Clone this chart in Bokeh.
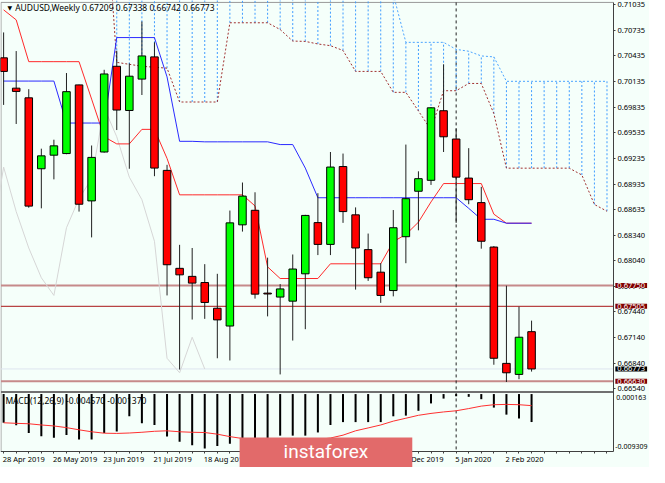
from bokeh.plotting import figure
from bokeh.models import (Range1d, FixedTicker, NumeralTickFormatter, CustomJSTickFormatter,
                          Label, ColumnDataSource)
from bokeh.embed import file_html
from bokeh.resources import INLINE

# ---------------- data ----------------
bars = list(range(43))
opens = [0.70413, 0.70058, 0.69945, 0.69115, 0.69274, 0.69293, 0.70096, 0.68739, 0.69311, 0.70314,
         0.69797, 0.70164, 0.70424, 0.69096, 0.67950, 0.67856, 0.67784, 0.67483, 0.67275, 0.68459,
         0.68629, 0.67660, 0.67614, 0.67566, 0.67886, 0.68485, 0.68230, 0.69141, 0.68576, 0.68169,
         0.67905, 0.67690, 0.68320, 0.68852, 0.68980, 0.69794, 0.69463, 0.69006, 0.68719, 0.68199,
         0.66838, 0.66709, 0.67209]
highs = [0.70710, 0.70492, 0.70046, 0.69350, 0.69455, 0.70235, 0.70099, 0.69387, 0.70273, 0.70495,
         0.70348, 0.70838, 0.70594, 0.69161, 0.68225, 0.68188, 0.67999, 0.67886, 0.68626, 0.68954,
         0.68840, 0.68075, 0.67766, 0.68112, 0.68576, 0.68829, 0.69311, 0.69293, 0.68663, 0.68357,
         0.68010, 0.68632, 0.69398, 0.69085, 0.69836, 0.70337, 0.69587, 0.69356, 0.68904, 0.68210,
         0.67747, 0.67501, 0.67338]
lows = [0.69862, 0.69639, 0.68659, 0.68652, 0.68991, 0.69285, 0.68614, 0.68312, 0.69304, 0.69568,
        0.69115, 0.69978, 0.69028, 0.67633, 0.66766, 0.67351, 0.67359, 0.66898, 0.66872, 0.68380,
        0.67596, 0.67388, 0.66709, 0.67105, 0.67238, 0.68105, 0.68105, 0.68482, 0.67701, 0.67803,
        0.67546, 0.67622, 0.68010, 0.68395, 0.68926, 0.69311, 0.68482, 0.68700, 0.68180, 0.66822,
        0.66620, 0.66653, 0.66742]
closes = [0.70254, 0.70020, 0.68678, 0.69266, 0.69383, 0.70017, 0.68700, 0.69248, 0.70224, 0.69802,
          0.70198, 0.70435, 0.69123, 0.67992, 0.67874, 0.67777, 0.67551, 0.67347, 0.68482, 0.68795,
          0.67648, 0.67650, 0.67709, 0.67942, 0.68569, 0.68230, 0.69135, 0.68614, 0.68188, 0.67840,
          0.67633, 0.68425, 0.68765, 0.68999, 0.69828, 0.69489, 0.69017, 0.68753, 0.68267, 0.66898,
          0.66728, 0.67144, 0.66773]

tenkan = [0.70974, 0.70857, 0.70368, 0.70368, 0.70368, 0.70368, 0.70368, 0.69930, 0.69489, 0.69406,
          0.69406, 0.69576, 0.69576, 0.69236, 0.68810, 0.68810, 0.68810, 0.68810, 0.68810, 0.68810,
          0.68680, 0.67967, 0.67831, 0.67831, 0.67831, 0.67831, 0.68003, 0.68003, 0.68003, 0.68003,
          0.68003, 0.68263, 0.68346, 0.68490, 0.68727, 0.68942, 0.68942, 0.68942, 0.68942, 0.68584,
          0.68478, 0.68478, 0.68478]
kijun = [0.70141, 0.70141, 0.70141, 0.70141, 0.70141, 0.69650, 0.69650, 0.69650, 0.69650, 0.70650,
         0.70650, 0.70650, 0.70650, 0.70190, 0.69436, 0.69436, 0.69430, 0.69430, 0.69430, 0.69430,
         0.69430, 0.69430, 0.69398, 0.69398, 0.69123, 0.68776, 0.68776, 0.68776, 0.68776, 0.68776,
         0.68776, 0.68776, 0.68776, 0.68776, 0.68776, 0.68776, 0.68776, 0.68652, 0.68524, 0.68524,
         0.68478, 0.68478, 0.68478]

cloud_x = list(range(8, 49))
span_a = [0.72500, 0.70360, 0.70337, 0.70314, 0.70303, 0.70292, 0.69896, 0.69896, 0.69896, 0.69896,
          0.70823, 0.70823, 0.70823, 0.70823, 0.70744, 0.70609, 0.70605, 0.70575, 0.70555, 0.70499,
          0.70254, 0.70254, 0.70254, 0.70009, 0.70009, 0.69791, 0.69570, 0.70028, 0.70028, 0.70113,
          0.70113, 0.69760, 0.69122, 0.69122, 0.69122, 0.69122, 0.69122, 0.69122, 0.69042, 0.68697,
          0.68618]
span_b = [0.71250] * 23 + [0.71156, 0.70594, 0.70594, 0.70594, 0.70594, 0.70512, 0.70490, 0.70435,
                           0.70424, 0.70138, 0.70138, 0.70138, 0.70138, 0.70138, 0.70138, 0.70138,
                           0.70138, 0.70138]

macd_main = [-0.00469, -0.00510, -0.00636, -0.00690, -0.00715, -0.00668, -0.00742, -0.00742, -0.00636, -0.00611,
             -0.00363, -0.00478, -0.00505, -0.00695, -0.00778, -0.00837, -0.00889, -0.00848, -0.00810, -0.00821,
             -0.00774, -0.00742, -0.00679, -0.00679, -0.00679, -0.00627, -0.00505, -0.00458, -0.00458, -0.00458,
             -0.00458, -0.00363, -0.00352, -0.00273, -0.00153, -0.00074, -0.00036, -0.00045, -0.00084, -0.00221,
             -0.00336, -0.00399, -0.00457]
macd_signal = [-0.00469, -0.00478, -0.00485, -0.00505, -0.00521, -0.00548, -0.00584, -0.00616, -0.00639, -0.00643,
               -0.00636, -0.00624, -0.00608, -0.00600, -0.00616, -0.00624, -0.00628, -0.00655, -0.00695, -0.00726,
               -0.00742, -0.00758, -0.00766, -0.00766, -0.00758, -0.00742, -0.00718, -0.00671, -0.00600, -0.00553,
               -0.00505, -0.00442, -0.00395, -0.00347, -0.00316, -0.00292, -0.00273, -0.00237, -0.00197, -0.00174,
               -0.00169, -0.00174, -0.00189]

price_ticks = [0.71035, 0.70735, 0.70435, 0.70135, 0.69835, 0.69535, 0.69235, 0.68935, 0.68635,
               0.68340, 0.68040, 0.67740, 0.67440, 0.67140, 0.66840, 0.66540]
date_pos = [0, 4, 8, 12, 16, 20, 24, 28, 32, 36, 40]
date_labels = ["28 Apr 2019", "26 May 2019", "23 Jun 2019", "21 Jul 2019", "18 Aug 2019",
               "15 Sep 2019", "13 Oct 2019", "10 Nov 2019", "8 Dec 2019", "5 Jan 2020", "2 Feb 2020"]
level_prices = [0.67750, 0.67505, 0.66630]
level_texts = ["0.67750", "0.67505", "0.66630"]
bid_price = 0.66773
title_text = "AUDUSD,Weekly  0.67209 0.67338 0.66742 0.66773"
macd_text = "MACD(12,26,9) -0.004570 -0.001370"
macd_max, macd_min = 0.000163, -0.009309

# ---------------- layout helpers (reference pixel -> data) ----------------
BAR0, BARW = 3.2, 12.88
P0, PY0, PPX = 0.71035, 4.3, 8840.0
MZ, MPX = 407.04, 6334.0


def bx(rx):
    return (rx - BAR0) / BARW


def py(ry):
    return P0 - (ry - PY0) / PPX


def my(ry):
    return -(ry - MZ) / MPX


XL, XR = bx(0.5), bx(628)          # chart area left / right (price axis position)
YT, YB = py(2), py(466)            # chart area top / bottom (time axis position)

BG = "#F5FFFA"
FONT = "Noto Sans"
RFS = "7.5px"

p = figure(width=649, height=467, output_backend="svg", toolbar_location=None,
           x_range=Range1d(bx(0), bx(665)), y_range=Range1d(py(483), py(0)),
           y_axis_location="right", min_border_left=0, min_border_right=0,
           min_border_top=0, min_border_bottom=0,
           background_fill_color=BG, border_fill_color=BG, outline_line_color=None)
p.extra_y_ranges = {"macd": Range1d(my(483), my(0))}
p.grid.visible = False

# axes (drawn at the chart-area edges)
ya = p.yaxis[0]
ya.fixed_location = XR
ya.bounds = (YB, YT)
ya.ticker = FixedTicker(ticks=price_ticks, minor_ticks=[])
ya.formatter = NumeralTickFormatter(format="0.00000")
ya.major_tick_out = 2
ya.major_tick_in = 0
ya.major_label_standoff = 2
ya.major_label_text_font = FONT
ya.major_label_text_font_size = RFS
ya.major_label_text_color = "black"
ya.axis_line_color = "#404040"
ya.major_tick_line_color = "#404040"

xa = p.xaxis[0]
xa.fixed_location = YB
xa.bounds = (XL, XR)
xa.ticker = FixedTicker(ticks=list(range(0, 49)), minor_ticks=[])
xa.formatter = CustomJSTickFormatter(code="return ''")
xa.major_tick_out = 2
xa.major_tick_in = 0
xa.major_label_standoff = 0
xa.axis_line_color = "#404040"
xa.major_tick_line_color = "#404040"

# chart borders
p.segment(x0=[XL, XL], y0=[YT, YT], x1=[XR, XL], y1=[YT, YB], line_color="#9a9a9a", line_width=1)

# level lines and the time marker
p.segment(x0=[XL], y0=[bid_price], x1=[XR], y1=[bid_price], line_color="#dde5ef", line_width=1)
p.segment(x0=[XL] * 3, y0=level_prices, x1=[XR] * 3, y1=level_prices,
          line_color=["#c68a8a", "#b84444", "#c68a8a"], line_width=[2, 1.2, 2])
jan = date_pos[date_labels.index("5 Jan 2020")]
p.segment(x0=[jan], y0=[YT], x1=[jan], y1=[YB], line_color="#222222", line_dash="3 3", line_width=1)

# Ichimoku cloud
p.segment(x0=cloud_x[1:], y0=span_a[1:], x1=cloud_x[1:], y1=span_b[1:],
          line_color="#3f9cff", line_dash="2 2", line_width=1)
p.line(cloud_x, span_a, line_color="#a03030", line_dash="2 2", line_width=1)
p.line(cloud_x, span_b, line_color="#4aa3ff", line_dash="2 2", line_width=1)

# Chikou span (close shifted back 26 bars)
chik_x = [i - 26 for i in range(25, 43)]
chik_y = closes[25:43]
p.line(chik_x, chik_y, line_color="#d6d6d6", line_width=1)

# Tenkan / Kijun
p.line(bars, tenkan, line_color="#ff2a2a", line_width=1)
p.line(bars, kijun, line_color="#2a2aff", line_width=1)

# candles
src = ColumnDataSource(dict(
    x=bars, o=opens, h=highs, l=lows, c=closes,
    top=[max(o, c) for o, c in zip(opens, closes)],
    bot=[min(o, c) for o, c in zip(opens, closes)],
    col=["#00ff00" if c >= o else "#ff0000" for o, c in zip(opens, closes)],
))
p.segment(x0="x", y0="l", x1="x", y1="h", source=src, line_color="#202020", line_width=1)
p.vbar(x="x", width=0.6, top="top", bottom="bot", source=src,
       fill_color="col", line_color="black", line_width=1)

# panel separator
p.segment(x0=[XL], y0=[py(405)], x1=[XR], y1=[py(405)], line_color="#707070", line_width=2)

# MACD
p.vbar(x=bars, width=0.16, top=0, bottom=macd_main, fill_color="black", line_color=None,
       y_range_name="macd")
p.line(bars, macd_signal, line_color="#ff3030", line_width=1, y_range_name="macd")

# texts
p.add_layout(Label(x=bx(9.5), y=py(7.5), text="\u25bc", text_font="DejaVu Sans", text_font_size="6px",
                   text_align="center", text_baseline="middle", text_color="black"))
p.add_layout(Label(x=bx(15), y=py(7.5), text=title_text, text_font=FONT, text_font_size="8.5px",
                   text_align="left", text_baseline="middle", text_color="black"))
p.add_layout(Label(x=bx(5), y=py(414), text=macd_text, text_font=FONT, text_font_size="8.5px",
                   text_align="left", text_baseline="middle", text_color="black"))
p.add_layout(Label(x=bx(631), y=py(410.3), text="%.6f" % macd_max, text_font=FONT, text_font_size="7px",
                   text_align="left", text_baseline="middle", text_color="black"))
p.add_layout(Label(x=bx(630), y=py(461), text="%.6f" % macd_min, text_font=FONT, text_font_size="7px",
                   text_align="left", text_baseline="middle", text_color="black"))

# boxed price labels (padding = left, right, top, bottom)
p.add_layout(Label(x=bx(630), y=bid_price, text="%.5f" % bid_price, text_font=FONT, text_font_size=RFS,
                   text_align="left", text_baseline="middle", text_color="white",
                   background_fill_color="black", padding=(2, 2, 0, 0)))
for lv, t in zip(level_prices, level_texts):
    p.add_layout(Label(x=bx(630), y=lv, text=t, text_font=FONT, text_font_size=RFS,
                       text_align="left", text_baseline="middle", text_color="white",
                       background_fill_color="#800000", padding=(2, 2, 0, 0)))

for pos, d in zip(date_pos, date_labels):
    p.add_layout(Label(x=pos - 1.0 / BARW, y=py(474), text=d, text_font=FONT, text_font_size="7.5px",
                       text_align="left", text_baseline="middle", text_color="black"))

# watermark (box anchored at its top-left corner)
p.add_layout(Label(x=bx(245), y=py(452), text="instaforex", text_font="Roboto", text_font_size="19px",
                   text_align="left", text_baseline="top", text_color="white",
                   background_fill_color="#e26a6a", padding=(44, 44, 2, 20)))

open("out.html", "w").write(file_html(p, INLINE))
